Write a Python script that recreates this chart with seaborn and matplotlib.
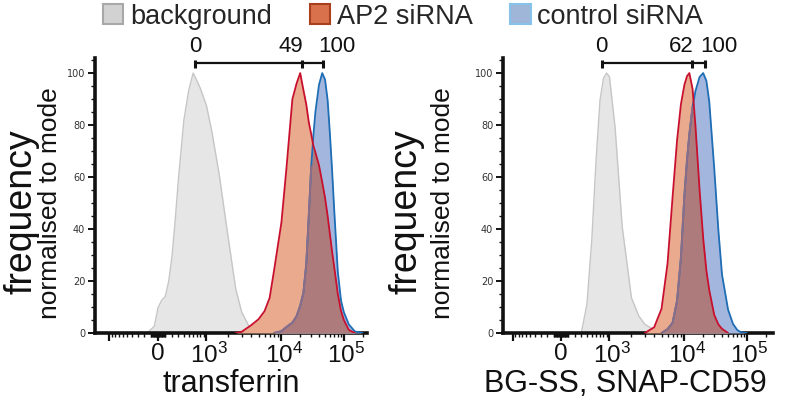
import numpy as np
import matplotlib
matplotlib.use("Agg")
import matplotlib.pyplot as plt
import seaborn as sns
from matplotlib.patches import Patch
from matplotlib.ticker import FixedLocator, FixedFormatter, MultipleLocator
from matplotlib.transforms import ScaledTranslation

# ---------------- data ----------------
series_names = ["background", "AP2 siRNA", "control siRNA"]

left_x = [-1000, -300, -150, -50, 0, 50, 100, 150, 200, 250, 300, 400, 500, 600, 700, 800,
          1000, 1200, 1500, 2000, 2500, 3000, 4000, 5000, 6000, 7000, 8000, 10000, 12000,
          15000, 17500, 20000, 22500, 25000, 27500, 30000, 32500, 35000, 40000, 45000,
          50000, 55000, 60000, 65000, 70000, 80000, 90000, 100000, 120000, 150000, 200000]
left_bg = [0, 0, 0, 2.6, 9.7, 12.6, 14, 20, 30, 44, 59, 82, 93.5, 100, 97, 94, 87.5, 77, 61,
           36, 17, 8, 1] + [0] * 28
left_ap2 = [0] * 20 + [0, 0.5, 3, 5.3, 8.4, 13.5, 24, 42.5, 63, 90, 96, 100, 93.5, 88, 81,
                       76.5, 72, 69.5, 64.5, 58, 52, 45, 37.7, 31, 25.5, 15, 8.5, 5, 1.2, 0, 0]
left_ctrl = [0] * 27 + [0.7, 2.3, 4, 6.5, 10.5, 15.5, 26.5, 45.5, 64, 76, 85, 95.5, 100,
                        97.5, 89.5, 76, 62, 47.5, 23.5, 12.5, 8, 3.3, 0.6, 0]

right_x = [-1000, -300, 0, 200, 300, 400, 500, 600, 700, 800, 900, 1000, 1200, 1500, 2000,
           2500, 3000, 4000, 5000, 6000, 7000, 8000, 9000, 10000, 11000, 12000, 13500, 15000,
           17500, 20000, 22500, 25000, 30000, 35000, 40000, 50000, 60000, 70000, 80000,
           100000, 150000, 200000]
right_bg = [0, 0, 0, 0, 0.2, 11, 36, 67, 89.5, 98, 100, 98.6, 79, 41, 13.5, 6.6, 3.4, 1.2,
            0.2] + [0] * 23
right_ap2 = [0] * 17 + [2.2, 9.3, 26.7, 52.5, 74, 88, 95.5, 98.8, 100, 94, 80, 55, 36.4, 24,
                        16.5, 7, 3.3, 1.6, 0, 0, 0, 0, 0, 0, 0]
right_ctrl = [0] * 19 + [1.5, 4, 12.4, 29, 53, 66.5, 76.5, 87, 93, 98.5, 100, 97, 89, 63.5,
                         39.5, 22.5, 9, 3.5, 1.2, 0.3, 0, 0, 0]

# bracket annotations: positions of the modes and the relative values
left_marks_x = [660, 21000, 47000]
left_marks_lab = ["0", "49", "100"]
right_marks_x = [750, 13200, 21300]
right_marks_lab = ["0", "62", "100"]

x_tick_vals = [-1000, 0, 1000, 10000, 100000]
x_tick_labels = ["", "0", r"$\mathregular{10^3}$", r"$\mathregular{10^4}$", r"$\mathregular{10^5}$"]
x_minor_vals = ([-v for v in range(100, 1000, 100)] + [-v for v in range(10, 100, 10)] +
                list(range(10, 100, 10)) + list(range(100, 1000, 100)) +
                list(range(2000, 10000, 1000)) + list(range(20000, 100000, 10000)) + [200000])
y_tick_vals = [0, 20, 40, 60, 80, 100]
x_labels = ["transferrin", "BG-SS, SNAP-CD59"]

# ---------------- style ----------------
sns.set_style("ticks")
plt.rcParams["font.family"] = ["Liberation Sans", "DejaVu Sans"]
plt.rcParams["mathtext.fontset"] = "custom"
plt.rcParams["mathtext.rm"] = "Liberation Sans"
plt.rcParams["mathtext.it"] = "Liberation Sans:italic"

BG_FILL, BG_EDGE = "#e6e6e6", "#c6c6c6"
AP2_FILL, AP2_EDGE = "#e9aa8d", "#c8102e"
CTRL_FILL, CTRL_EDGE = "#a3b7de", "#1f6db5"
OVER_FILL, OVER_EDGE = "#ad7b7b", "#8c6c86"

# biexponential-like display scale
_A = 400.0
_U = np.arcsinh(np.array([0.0, 1e3, 1e4, 1e5]) / _A)
_P = np.array([0.0, 48.5, 123.5, 186.0])
_S = np.diff(_P) / np.diff(_U)


def fwd(x):
    u = np.arcsinh(np.asarray(x, dtype=float) / _A)
    return np.where(u < _U[1], _P[0] + (u - _U[0]) * _S[0],
                    np.where(u < _U[2], _P[1] + (u - _U[1]) * _S[1],
                             _P[2] + (u - _U[2]) * _S[2]))


def inv(p):
    p = np.asarray(p, dtype=float)
    u = np.where(p < _P[1], _U[0] + (p - _P[0]) / _S[0],
                 np.where(p < _P[2], _U[1] + (p - _P[1]) / _S[1],
                          _U[2] + (p - _P[2]) / _S[2]))
    return _A * np.sinh(u)


def support(y):
    """slice covering the non-zero part of a histogram plus its bounding zeros"""
    nz = np.nonzero(y)[0]
    return slice(max(nz[0] - 1, 0), nz[-1] + 2)


W, H = 788, 404
fig = plt.figure(figsize=(W / 100, H / 100), dpi=100)


def panel(rect, xlim, x, bg, ap2, ctrl, marks_x, marks_lab, xlabel, xlabel_pos):
    ax = fig.add_axes(rect)
    ax.set_xscale("function", functions=(fwd, inv))
    x = np.array(x, float)
    bg, ap2, ctrl = (np.array(v, float) for v in (bg, ap2, ctrl))
    ax.fill_between(x, bg, color=BG_FILL, lw=0, zorder=1)
    s = support(bg)
    sns.lineplot(x=x[s], y=bg[s], ax=ax, color=BG_EDGE, lw=1.0, estimator=None, sort=False,
                 legend=False, zorder=2)
    ax.fill_between(x, ap2, color=AP2_FILL, lw=0, zorder=3)
    ax.fill_between(x, ctrl, color=CTRL_FILL, lw=0, zorder=3)
    ax.fill_between(x, np.minimum(ap2, ctrl), color=OVER_FILL, lw=0, zorder=4)
    s = support(ctrl)
    sns.lineplot(x=x[s], y=ctrl[s], ax=ax, color=CTRL_EDGE, lw=1.3, estimator=None,
                 sort=False, legend=False, zorder=5)
    hidden = np.where(ctrl < ap2, ctrl, np.nan)
    ax.plot(x[s], hidden[s], color=OVER_EDGE, lw=1.4, zorder=5.5)
    s = support(ap2)
    sns.lineplot(x=x[s], y=ap2[s], ax=ax, color=AP2_EDGE, lw=1.3, estimator=None,
                 sort=False, legend=False, zorder=6)

    ax.set_xlim(*xlim)
    ax.set_ylim(0, 105.8)
    # bracket
    ax.plot([marks_x[0], marks_x[-1]], [104, 104], color="#111111", lw=1.6,
            clip_on=False, zorder=7, solid_capstyle="butt")
    for mx in marks_x:
        ax.plot([mx, mx], [101.8, 105.0], color="#111111", lw=2.2, clip_on=False,
                zorder=7, solid_capstyle="butt")
    ax.text(marks_x[0], 106.0, marks_lab[0], ha="center", va="bottom", fontsize=16,
            color="#111111")
    ax.text(marks_x[1], 106.0, marks_lab[1], ha="right", va="bottom", fontsize=16,
            color="#111111",
            transform=ax.transData + ScaledTranslation(0.02, 0, fig.dpi_scale_trans))
    ax.text(marks_x[2], 106.0, marks_lab[2], ha="left", va="bottom", fontsize=16,
            color="#111111",
            transform=ax.transData + ScaledTranslation(-0.05, 0, fig.dpi_scale_trans))

    for sp in ["top", "right"]:
        ax.spines[sp].set_visible(False)
    for sp in ["left", "bottom"]:
        ax.spines[sp].set_linewidth(2.6)
        ax.spines[sp].set_color("#111111")

    ax.xaxis.set_major_locator(FixedLocator(x_tick_vals))
    ax.xaxis.set_major_formatter(FixedFormatter(x_tick_labels))
    ax.xaxis.set_minor_locator(FixedLocator(x_minor_vals))
    ax.yaxis.set_major_locator(FixedLocator(y_tick_vals))
    ax.yaxis.set_minor_locator(MultipleLocator(5))
    ax.tick_params(axis="x", which="major", length=6, width=1.6, labelsize=17.5, pad=1,
                   color="#111111", labelcolor="#111111")
    ax.tick_params(axis="x", which="minor", length=3, width=1.0, color="#111111")
    ax.tick_params(axis="y", which="major", length=5, width=1.4, labelsize=7, pad=2,
                   color="#111111", labelcolor="#333333")
    ax.tick_params(axis="y", which="minor", length=3, width=1.0, color="#111111")
    for lbl in ax.get_yticklabels():
        lbl.set_fontfamily("DejaVu Sans")
    for lbl in ax.get_xticklabels()[2:]:
        lbl.set_transform(lbl.get_transform() + ScaledTranslation(0.025, 0, fig.dpi_scale_trans))
    ax.set_xlabel(xlabel, fontsize=22, color="#111111")
    ax.xaxis.set_label_coords(xlabel_pos, -0.132)
    ax.set_ylabel("")
    return ax


ax1 = panel([95 / W, 1 - 333 / H, 272 / W, 275 / H], (-1676, 234500),
            left_x, left_bg, left_ap2, left_ctrl, left_marks_x, left_marks_lab,
            x_labels[0], 0.5)
ax2 = panel([503 / W, 1 - 333 / H, 270 / W, 275 / H], (-1407, 262000),
            right_x, right_bg, right_ap2, right_ctrl, right_marks_x, right_marks_lab,
            x_labels[1], 0.455)

# y labels
for xf, xn in [(22, 50), (406, 443)]:
    fig.text(xf / W, 1 - 212 / H, "frequency", rotation=90, ha="center", va="center",
             fontsize=27, color="#111111")
    fig.text(xn / W, 1 - 203 / H, "normalised to mode", rotation=90, ha="center",
             va="center", fontsize=19, color="#111111")

# legend
handles = [Patch(facecolor="#d2d2d2", edgecolor="#a8a8a8", lw=1.5),
           Patch(facecolor="#d9714c", edgecolor="#a8401e", lw=1.5),
           Patch(facecolor="#9fb6d8", edgecolor="#86c2ea", lw=1.5)]
fig.legend(handles, series_names, ncol=3, loc="upper center",
           bbox_to_anchor=(403 / W, 1.018), frameon=False, fontsize=19.5,
           handlelength=0.75, handleheight=0.75, handletextpad=0.25, columnspacing=1.4,
           borderaxespad=0)

fig.savefig("out.png", dpi=100)
